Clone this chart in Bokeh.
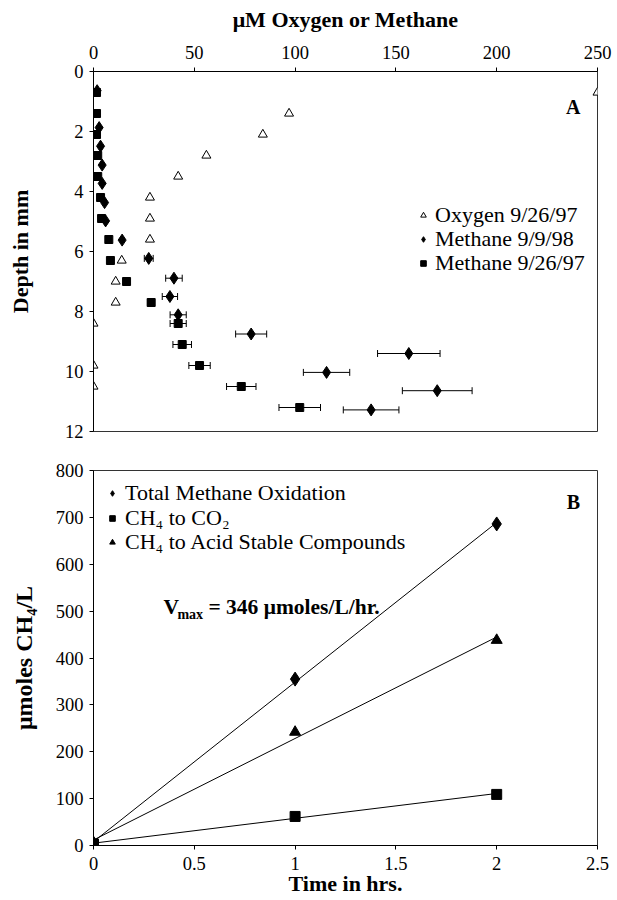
import numpy as np
from bokeh.plotting import figure
from bokeh.models import (Range1d, FixedTicker, Legend, LegendItem, Whisker,
                          ColumnDataSource, Label, TeeHead)
from bokeh.layouts import column
from bokeh.embed import file_html
from bokeh.resources import INLINE

FONT = "Liberation Serif"

# ---------------- Panel A data ----------------
oxy_depth = [0.7, 1.4, 2.1, 2.8, 3.5, 4.2, 4.9, 5.6, 6.3, 7.0, 7.7, 8.4, 9.8, 10.5]
oxy_um = [250, 97, 84, 56, 42, 28, 28, 28, 14, 11, 11, 0, 0, 0]

ch4_98_depth = [0.64, 1.87, 2.49, 3.12, 3.73, 4.37, 4.98, 5.62, 6.23, 6.89, 7.5,
                8.11, 8.75, 9.4, 10.03, 10.64, 11.28]
ch4_98_um = [1.8, 2.8, 3.5, 4.3, 4.3, 5.5, 6.0, 14.2, 27.4, 39.9, 37.9, 42.0,
             78.2, 156.4, 115.6, 170.5, 137.7]
ch4_98_err = [0, 0, 0, 0, 0, 0, 0, 0, 2.2, 4.1, 3.8, 4.0, 7.7, 15.5, 11.5, 17.3, 13.8]

ch4_97_depth = [0.7, 1.4, 2.1, 2.8, 3.5, 4.2, 4.9, 5.6, 6.3, 7.0, 7.7, 8.4, 9.1,
                9.8, 10.5, 11.2]
ch4_97_um = [1.5, 1.5, 1.5, 2.1, 2.1, 3.5, 4.0, 7.6, 8.4, 16.4, 28.6, 42.0, 44.0,
             52.6, 73.3, 102.3]
ch4_97_err = [0, 0, 0, 0, 0, 0, 0, 0, 0, 0, 1.7, 4.0, 4.6, 5.3, 7.3, 10.3]

a_xticks = [0, 50, 100, 150, 200, 250]
a_yticks = [0, 2, 4, 6, 8, 10, 12]
a_legend = ["Oxygen 9/26/97", "Methane 9/9/98", "Methane 9/26/97"]

# ---------------- Panel B data ----------------
time_hr = [0, 1, 2]
total_ox = [5, 355, 686]
ch4_co2 = [3, 62, 109]
ch4_acid = [5, 242, 438]

b_xticks = [0, 0.5, 1, 1.5, 2, 2.5]
b_yticks = [0, 100, 200, 300, 400, 500, 600, 700, 800]
b_legend = ["Total Methane Oxidation", "CH₄ to CO₂", "CH₄ to Acid Stable Compounds"]

TICK_FS = "18.5px"
TITLE_X_FS = "22px"
LEG_FS = "22px"


def style_axis(ax, label_standoff, title_standoff, title_fs):
    ax.axis_line_color = "black"
    ax.major_tick_line_color = "black"
    ax.major_tick_out = 4
    ax.major_tick_in = 0
    ax.minor_tick_line_color = None
    ax.major_label_text_font = FONT
    ax.major_label_text_font_size = TICK_FS
    ax.major_label_text_color = "black"
    ax.major_label_standoff = label_standoff
    ax.axis_label_text_font = FONT
    ax.axis_label_text_font_size = title_fs
    ax.axis_label_text_font_style = "bold"
    ax.axis_label_text_color = "black"
    ax.axis_label_standoff = title_standoff


def single_legend(label, renderer, x, y, standoff):
    return Legend(items=[LegendItem(label=label, renderers=[renderer])],
                  location=(x, y), orientation="vertical",
                  border_line_alpha=0, background_fill_alpha=0,
                  label_text_font=FONT, label_text_font_size=LEG_FS,
                  label_text_color="black",
                  glyph_width=14, glyph_height=26, label_height=26,
                  spacing=0, padding=0, margin=0, label_standoff=standoff)


# ---------------- Panel A ----------------
p1 = figure(width=612, height=446, x_range=Range1d(0, 250), y_range=Range1d(12, 0),
            x_axis_location="above", output_backend="svg", toolbar_location=None,
            min_border_left=93, min_border_right=15, min_border_top=71,
            min_border_bottom=15)
p1.xgrid.visible = False
p1.ygrid.visible = False
p1.outline_line_color = "#333333"

p1.xaxis.ticker = FixedTicker(ticks=a_xticks)
p1.yaxis.ticker = FixedTicker(ticks=a_yticks)
p1.xaxis.axis_label = "μM Oxygen or Methane"
p1.yaxis.axis_label = "Depth in mm"
style_axis(p1.xaxis[0], 9, 11, TITLE_X_FS)
style_axis(p1.yaxis[0], 6, 29, "22px")


def whisker_source(vals, depth, err):
    v = [a for a, e in zip(vals, err) if e > 0]
    d = [b for b, e in zip(depth, err) if e > 0]
    e2 = [e for e in err if e > 0]
    return ColumnDataSource(dict(y=d, lo=[a - e for a, e in zip(v, e2)],
                                 hi=[a + e for a, e in zip(v, e2)]))


for vals, depth, err in [(ch4_98_um, ch4_98_depth, ch4_98_err),
                         (ch4_97_um, ch4_97_depth, ch4_97_err)]:
    w = Whisker(source=whisker_source(vals, depth, err), base="y", lower="lo",
                upper="hi", dimension="width", line_color="black", line_width=1,
                upper_head=TeeHead(size=7, line_width=1, line_color="black"),
                lower_head=TeeHead(size=7, line_width=1, line_color="black"))
    p1.add_layout(w)

r_oxy = p1.scatter(oxy_um, oxy_depth, marker="triangle", size=9,
                   fill_color="white", line_color="black", line_width=1)
r_98 = p1.scatter(ch4_98_um, ch4_98_depth, marker="diamond", size=12,
                  fill_color="black", line_color="black")
r_97 = p1.scatter(ch4_97_um, ch4_97_depth, marker="square", size=8,
                  fill_color="black", line_color="black")

for lab, rend, yb in zip(a_legend, [r_oxy, r_98, r_97], [203, 179, 155]):
    p1.add_layout(single_legend(lab, rend, 323, yb, 5))

p1.add_layout(Label(x=238, y=1.17, text="A", text_font=FONT, text_font_size="20px",
                    text_font_style="bold", text_align="center", text_color="black",
                    text_baseline="middle"))

# ---------------- Panel B ----------------
p2 = figure(width=612, height=454, x_range=Range1d(0, 2.5), y_range=Range1d(0, 800),
            output_backend="svg", toolbar_location=None,
            min_border_left=93, min_border_right=15, min_border_top=24,
            min_border_bottom=55)
p2.xgrid.visible = False
p2.ygrid.visible = False
p2.outline_line_color = "#333333"
p2.xaxis.ticker = FixedTicker(ticks=b_xticks)
p2.xaxis.major_label_overrides = {t: f"{t:g}" for t in b_xticks}
p2.yaxis.ticker = FixedTicker(ticks=b_yticks)
p2.xaxis.axis_label = "Time in hrs."
p2.yaxis.axis_label = "μmoles CH₄/L"
style_axis(p2.xaxis[0], 7, -2, TITLE_X_FS)
style_axis(p2.yaxis[0], 6, 16, "24px")

t = np.array(time_hr, dtype=float)
for series in (total_ox, ch4_acid, ch4_co2):
    slope, icpt = np.polyfit(t, np.array(series, dtype=float), 1)
    xs = [t.min(), t.max()]
    p2.line(xs, [icpt + slope * x for x in xs], line_color="black", line_width=1)

r_tot = p2.scatter(time_hr, total_ox, marker="diamond", size=14,
                   fill_color="black", line_color="black")
r_acid = p2.scatter(time_hr, ch4_acid, marker="triangle", size=11,
                    fill_color="black", line_color="black")
r_co2 = p2.scatter(time_hr, ch4_co2, marker="square", size=10,
                   fill_color="black", line_color="black")

for lab, rend, yb in zip(b_legend, [r_tot, r_co2, r_acid], [339, 314, 290]):
    p2.add_layout(single_legend(lab, rend, 12, yb, 6))

p2.add_layout(Label(x=2.38, y=732, text="B", text_font=FONT, text_font_size="20px",
                    text_font_style="bold", text_align="center", text_color="black",
                    text_baseline="middle"))

vx, vy = 0.347, 508
p2.add_layout(Label(x=vx, y=vy, text="V", text_font=FONT, text_font_size="21.5px",
                    text_font_style="bold", text_baseline="middle", text_color="black"))
p2.add_layout(Label(x=vx, y=vy, x_offset=14, y_offset=-7, text="max", text_font=FONT,
                    text_font_size="14px", text_font_style="bold", text_color="black",
                    text_baseline="middle"))
p2.add_layout(Label(x=vx, y=vy, x_offset=45, text="= 346 μmoles/L/hr.",
                    text_font=FONT, text_font_size="21.5px", text_font_style="bold",
                    text_baseline="middle", text_color="black"))

layout = column(p1, p2)
open("out.html", "w").write(file_html(layout, INLINE))
